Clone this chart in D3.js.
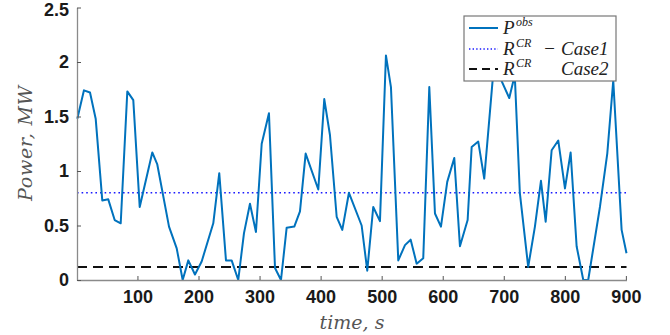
<!DOCTYPE html>
<html><head><meta charset="utf-8">
<script src="https://cdn.jsdelivr.net/npm/d3@7/dist/d3.min.js"></script>
<style>
html,body{margin:0;padding:0;background:#fff;}
svg{display:block;}
</style>
</head><body>
<svg id="chart" width="670" height="335"></svg>
<script>
// ---- data ----
const times = [1.5,12.4,22.3,31.6,42.4,52.2,62.7,72.6,83.4,93.2,103.7,124.3,132.5,151.7,164.3,174.1,183.3,194.2,205.2,224.2,234,245,254.3,265.1,274.5,284.3,294.1,303.5,315.4,325.3,335.1,344.4,356.9,366.2,375.5,396.2,406,415.3,426.3,435.5,446.4,467.2,476.4,486.2,497.2,507,515.2,527.2,538.2,547.5,557.3,568.1,578,587.3,597.1,607.4,618.9,628.2,640.8,647.4,658.2,668,684,709,718,726.3,740,751,760.9,768.6,778.4,789.2,800.2,809.5,819.3,830.2,838.3,857.5,869.5,879.3,893,901];
const power = [1.48,1.74,1.72,1.48,0.73,0.74,0.55,0.52,1.73,1.65,0.67,1.17,1.06,0.49,0.29,0.0,0.18,0.05,0.17,0.52,0.98,0.18,0.18,0.0,0.43,0.70,0.44,1.25,1.53,0.11,0.0,0.48,0.49,0.63,1.16,0.83,1.66,1.33,0.58,0.46,0.80,0.50,0.085,0.67,0.54,2.06,1.77,0.18,0.32,0.37,0.15,0.20,1.77,0.61,0.49,0.90,1.12,0.31,0.55,1.22,1.27,0.93,1.98,1.67,1.88,0.80,0.12,0.49,0.91,0.535,1.19,1.28,0.84,1.17,0.31,0.0,0.0,0.67,1.16,1.83,0.46,0.245];
const case1Level = 0.80;
const case2Level = 0.12;
const xTicks = [100,200,300,400,500,600,700,800,900];
const yTicks = [0,0.5,1,1.5,2,2.5];
const xDomain = [1, 901];
const yDomain = [0, 2.5];

// ---- drawing ----
const svg = d3.select("#chart");
const x = d3.scaleLinear().domain(xDomain).range([77, 626.5]);
const y = d3.scaleLinear().domain(yDomain).range([280, 7.5]);

// reference lines
svg.append("line")
  .attr("x1", x(xDomain[0])).attr("x2", x(xDomain[1]))
  .attr("y1", y(case1Level)).attr("y2", y(case1Level))
  .attr("stroke", "#1a1aff").attr("stroke-width", 1.6)
  .attr("stroke-dasharray", "1.6,3");
svg.append("line")
  .attr("x1", x(xDomain[0])).attr("x2", x(xDomain[1]))
  .attr("y1", y(case2Level)).attr("y2", y(case2Level))
  .attr("stroke", "#111").attr("stroke-width", 2)
  .attr("stroke-dasharray", "10,6");

// observed power
const line = d3.line().x((d,i)=>x(times[i])).y(d=>y(d));
svg.append("path").datum(power)
  .attr("d", line)
  .attr("fill", "none")
  .attr("stroke", "#0072BD")
  .attr("stroke-width", 2)
  .attr("stroke-linejoin", "round");

// axes
const gx = svg.append("g").attr("transform", "translate(0,280)")
  .call(d3.axisBottom(x).tickValues(xTicks).tickFormat(d3.format("d")).tickSizeInner(-4).tickSizeOuter(0).tickPadding(10));
const gy = svg.append("g").attr("transform", "translate(77,0)")
  .call(d3.axisLeft(y).tickValues(yTicks).tickFormat(d=>String(d)).tickSizeInner(-4).tickSizeOuter(0).tickPadding(8));
[gx, gy].forEach(g => {
  g.select(".domain").attr("stroke", "#8a8a8a").attr("stroke-width", 1.3);
  g.selectAll(".tick line").attr("stroke", "#555").attr("stroke-width", 1);
  g.selectAll(".tick text")
    .attr("font-family", "Liberation Sans, Arial, sans-serif")
    .attr("font-weight", "bold")
    .attr("font-size", 18)
    .attr("fill", "#1a1a1a");
});
gy.selectAll(".tick text").filter(d => d === 2.5).attr("dy", "0.45em");

// axis labels
svg.append("text")
  .attr("transform", "translate(32,143) rotate(-90)")
  .attr("text-anchor", "middle")
  .attr("font-family", "DejaVu Serif, Liberation Serif, serif")
  .attr("font-style", "italic")
  .attr("font-size", 19)
  .attr("letter-spacing", 0.8)
  .attr("fill", "#555")
  .text("Power, MW");
svg.append("text")
  .attr("x", 352).attr("y", 329)
  .attr("text-anchor", "middle")
  .attr("font-family", "DejaVu Serif, Liberation Serif, serif")
  .attr("font-style", "italic")
  .attr("font-size", 19)
  .attr("fill", "#555")
  .text("time, s");

// legend
const lg = svg.append("g");
lg.append("rect").attr("x", 464).attr("y", 16).attr("width", 152).attr("height", 65)
  .attr("fill", "#fff").attr("stroke", "#777").attr("stroke-width", 1.2);
const rows = [28, 49, 69];
lg.append("line").attr("x1", 469).attr("x2", 498).attr("y1", rows[0]).attr("y2", rows[0])
  .attr("stroke", "#0072BD").attr("stroke-width", 2);
lg.append("line").attr("x1", 469).attr("x2", 498).attr("y1", rows[1]).attr("y2", rows[1])
  .attr("stroke", "#1a1aff").attr("stroke-width", 1.4).attr("stroke-dasharray", "1.4,2.2");
lg.append("line").attr("x1", 469).attr("x2", 498).attr("y1", rows[2]).attr("y2", rows[2])
  .attr("stroke", "#111").attr("stroke-width", 2).attr("stroke-dasharray", "8,5");

const tf = "Liberation Serif, DejaVu Serif, serif";
function legendText(row, parts) {
  const t = lg.append("text").attr("y", row + 6)
    .attr("font-family", tf).attr("font-style", "italic").attr("fill", "#222");
  parts.forEach(p => {
    const s = t.append("tspan").attr("x", p.x).attr("font-size", p.size).text(p.text);
    if (p.dy) s.attr("dy", p.dy);
  });
}
legendText(rows[0], [
  {x: 503, size: 19, text: "P"},
  {x: 516, size: 12, text: "obs", dy: -8}
]);
legendText(rows[1], [
  {x: 503, size: 19, text: "R"},
  {x: 516, size: 12, text: "CR", dy: -8},
  {x: 543, size: 19, text: "\u2212", dy: 8},
  {x: 561, size: 19, text: "Case1"}
]);
legendText(rows[2], [
  {x: 503, size: 19, text: "R"},
  {x: 516, size: 12, text: "CR", dy: -8},
  {x: 561, size: 19, text: "Case2", dy: 8}
]);
</script>
</body></html>
